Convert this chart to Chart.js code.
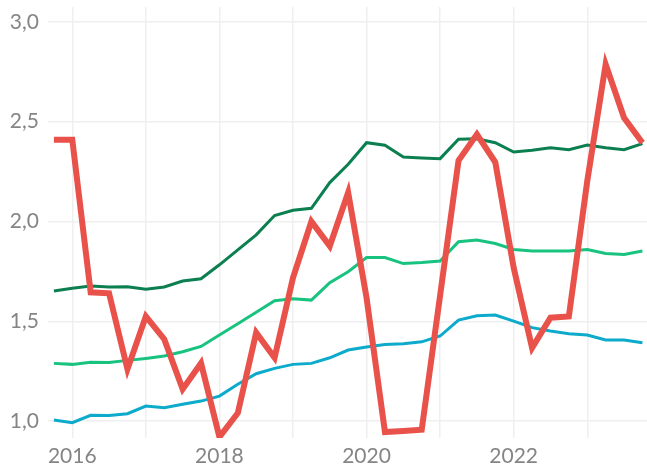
<!DOCTYPE html>
<html>
<head>
<meta charset="utf-8">
<script src="https://cdn.jsdelivr.net/npm/chart.js@4/dist/chart.umd.min.js"></script>
<style>
  html, body { margin: 0; padding: 0; background: #fff; }
  #wrap { width: 647px; height: 466px; position: relative; }
</style>
</head>
<body>
<div id="wrap"><canvas id="c"></canvas></div>
<script>
// Quarters (2015 Q4 .. 2023 Q4)
const periods = ['2015Q4',
  '2016Q1','2016Q2','2016Q3','2016Q4',
  '2017Q1','2017Q2','2017Q3','2017Q4',
  '2018Q1','2018Q2','2018Q3','2018Q4',
  '2019Q1','2019Q2','2019Q3','2019Q4',
  '2020Q1','2020Q2','2020Q3','2020Q4',
  '2021Q1','2021Q2','2021Q3','2021Q4',
  '2022Q1','2022Q2','2022Q3','2022Q4',
  '2023Q1','2023Q2','2023Q3','2023Q4'];

const redSeries = [2.41, 2.41, 1.645, 1.64, 1.26, 1.525, 1.41, 1.16, 1.29, 0.92, 1.04, 1.443, 1.317, 1.718, 2.0, 1.877, 2.145, 1.618, 0.945, 0.95, 0.957, 1.63, 2.305, 2.437, 2.297, 1.768, 1.367, 1.518, 1.524, 2.203, 2.788, 2.52, 2.395];
const darkGreenSeries = [1.652, 1.665, 1.677, 1.672, 1.673, 1.66, 1.672, 1.702, 1.713, 1.783, 1.858, 1.933, 2.03, 2.056, 2.066, 2.195, 2.287, 2.395, 2.382, 2.323, 2.318, 2.315, 2.412, 2.415, 2.395, 2.348, 2.357, 2.37, 2.36, 2.383, 2.37, 2.36, 2.39];
const lightGreenSeries = [1.289, 1.284, 1.294, 1.293, 1.304, 1.314, 1.326, 1.347, 1.374, 1.431, 1.488, 1.545, 1.603, 1.613, 1.606, 1.693, 1.748, 1.819, 1.819, 1.789, 1.794, 1.802, 1.899, 1.907, 1.89, 1.86, 1.852, 1.852, 1.852, 1.86, 1.84, 1.835, 1.852];
const blueSeries = [1.005, 0.992, 1.029, 1.028, 1.037, 1.075, 1.067, 1.084, 1.10, 1.125, 1.184, 1.237, 1.264, 1.284, 1.289, 1.317, 1.356, 1.371, 1.384, 1.387, 1.397, 1.426, 1.506, 1.528, 1.531, 1.501, 1.468, 1.451, 1.438, 1.431, 1.406, 1.406, 1.392];

const yTicks = [1.0, 1.5, 2.0, 2.5, 3.0];
const xTicks = [2016, 2017, 2018, 2019, 2020, 2021, 2022, 2023];
const xTickLabels = ['2016', '', '2018', '', '2020', '', '2022', ''];

function toYear(p) {
  const y = parseInt(p.slice(0, 4), 10);
  const q = parseInt(p.slice(5), 10);
  return y + (q - 1) / 4;
}
function pts(vals) { return vals.map((v, i) => ({ x: toYear(periods[i]), y: v })); }

const fontFamily = 'Lato, "Open Sans", sans-serif';
const tickColor = '#858585';
const gridColor = '#efefef';

function zeroPad(s) { s.paddingTop = 0; s.paddingBottom = 0; s.paddingLeft = 0; s.paddingRight = 0; }

new Chart(document.getElementById('c'), {
  type: 'line',
  data: {
    datasets: [
      { data: pts(redSeries), borderColor: '#E9524A', borderWidth: 6, pointRadius: 0, tension: 0 },
      { data: pts(darkGreenSeries), borderColor: '#0B7F4F', borderWidth: 3, pointRadius: 0, tension: 0 },
      { data: pts(lightGreenSeries), borderColor: '#18C37F', borderWidth: 3, pointRadius: 0, tension: 0 },
      { data: pts(blueSeries), borderColor: '#0CAACB', borderWidth: 3, pointRadius: 0, tension: 0 }
    ]
  },
  options: {
    responsive: true,
    maintainAspectRatio: false,
    animation: false,
    layout: { padding: { top: 7, right: 0, left: 0, bottom: 0 } },
    plugins: { legend: { display: false }, tooltip: { enabled: false } },
    scales: {
      x: {
        type: 'linear',
        min: 2015.67,
        max: 2023.812,
        afterBuildTicks: (axis) => { axis.ticks = xTicks.map(v => ({ value: v })); },
        afterFit: (s) => { s.height = 28; zeroPad(s); },
        ticks: {
          autoSkip: false,
          maxRotation: 0,
          padding: 6,
          color: tickColor,
          font: { family: fontFamily, size: 21 },
          callback: (v) => { const i = xTicks.indexOf(v); return i >= 0 ? xTickLabels[i] : ''; }
        },
        grid: { color: gridColor, lineWidth: 1.5, drawTicks: false },
        border: { display: false }
      },
      y: {
        min: 0.915,
        max: 3.075,
        afterBuildTicks: (axis) => { axis.ticks = yTicks.map(v => ({ value: v })); },
        afterFit: (s) => { s.width = 48; zeroPad(s); },
        ticks: {
          padding: 9,
          color: tickColor,
          font: { family: fontFamily, size: 21 },
          callback: (v) => v.toFixed(1).replace('.', ',')
        },
        grid: { color: gridColor, lineWidth: 1.5, drawTicks: false },
        border: { display: false }
      }
    }
  }
});
</script>
</body>
</html>
